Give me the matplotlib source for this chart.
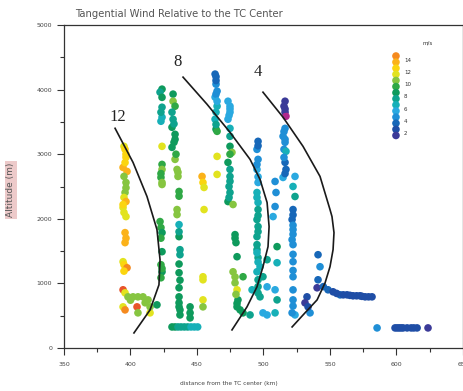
import numpy as np
import matplotlib.pyplot as plt
from matplotlib.colors import ListedColormap, BoundaryNorm

# ---- data (distance km, altitude m, wind m/s) ----
# column near the 12 m/s line
col_a_km = [395.1, 395.9, 396.6, 394.4, 397.4, 395.1, 396.6, 395.9, 395.1, 396.6, 394.4, 395.1,
            396.6, 395.9, 395.9, 394.4, 395.1, 397.4, 394.4, 395.9, 398.1, 401.9, 405.6, 409.4,
            413.2, 394.4, 395.9, 404.9, 405.6, 414.7, 414.7, 419.9,
            396.6, 395.9, 396.6, 394.4, 396.6, 395.1, 400.0, 411.0]
col_a_alt = [3122, 3075, 2951, 2795, 2733, 2656, 2562, 2407, 2330, 2267, 2174, 2097,
             2034, 1786, 1631, 1336, 1289, 1242, 901, 854, 792, 792, 792, 792,
             745, 637, 590, 637, 544, 544, 637, 668,
             3000, 2870, 2480, 2220, 1700, 1190, 740, 700]
col_a_spd = [12, 13, 13, 14, 14, 11, 11, 11, 12, 14, 12, 12,
             12, 14, 14, 12, 13, 15, 16, 12, 11, 11, 11, 11,
             11, 12, 15, 16, 11, 12, 11, 9,
             13, 13, 11, 13, 14, 13, 11, 11]

# two green columns between the 12 and 8 lines
col_b_km = [423.7, 422.2, 423.7, 423.7, 422.9, 423.7, 423.7, 423.7, 422.9, 423.7, 423.7, 422.2,
            422.9, 423.7, 423.7, 422.9, 423.7, 422.9,
            432.0, 432.0, 433.5, 431.2, 432.0, 431.2, 433.5, 432.7, 431.2, 433.5, 435.0, 435.7,
            436.5, 435.0, 435.0, 436.5, 436.5, 437.2, 437.2, 436.5, 436.5, 436.5, 436.5, 437.2,
            437.2, 444.8, 444.8, 444.8,
            431.2, 433.5, 435.7, 438.0, 440.5, 443.0, 445.5, 448.0, 450.5,
            422.9, 423.7, 422.9, 422.9, 423.7,
            432.7, 433.5, 434.2, 435.7, 436.5, 436.5, 436.5, 437.2, 436.5]
col_b_alt = [4007, 3960, 3727, 3572, 3510, 3122, 2842, 2764, 2640, 2562, 2531, 1957,
             1864, 1786, 1491, 1289, 1180, 1087,
             3930, 3820, 3743, 3650, 3541, 3417, 3308, 3184, 3106, 2920, 2764, 2656,
             2423, 2143, 2065, 1910, 1724, 1522, 1444, 1165, 932, 792, 637, 590,
             512, 637, 544, 466,
             326, 326, 326, 326, 326, 326, 326, 326, 326,
             3650, 3880, 2700, 1700, 1230,
             3470, 3230, 3000, 2720, 2350, 1800, 1300, 1050, 700]
col_b_spd = [9, 8, 8, 7, 7, 12, 10, 11, 10, 11, 11, 10,
             10, 9, 9, 10, 9, 10,
             9, 11, 10, 8, 8, 9, 9, 9, 9, 11, 11, 11,
             10, 11, 11, 7, 9, 8, 8, 9, 9, 9, 9, 9,
             9, 9, 9, 9,
             9, 9, 8, 8, 8, 8, 7, 7, 7,
             8, 9, 10, 10, 10,
             8, 9, 10, 11, 10, 8, 9, 9, 9]

# scattered yellow points and the column topped by blue near 465 km
col_c_km = [453.8, 454.5, 455.3, 455.3, 454.5, 454.5, 454.5, 454.5,
            463.6, 464.3, 464.3, 465.1, 463.6, 465.1, 463.6, 464.3, 465.1, 465.1, 465.1,
            464.3, 464.3, 465.1, 464.3, 464.3]
col_c_alt = [2656, 2562, 2485, 2143, 1103, 1056, 745, 637,
             4240, 4200, 4084, 3976, 3883, 3743, 3541, 3386, 3354, 2966, 2687,
             4140, 3930, 3820, 3650, 3460]
col_c_spd = [14, 13, 12, 12, 12, 12, 12, 11,
             4, 4, 5, 5, 6, 7, 7, 9, 10, 12, 12,
             4, 5, 6, 7, 8]

# teal / green column just left of the 8 line
col_d_km = [473.3, 474.8, 474.8, 473.3, 474.8, 474.8, 476.3, 473.3, 474.8, 474.8, 474.1, 474.8,
            473.3, 477.1, 478.6, 479.3, 480.1, 477.1, 478.6, 480.1, 480.8, 480.1, 482.4, 484.6,
            489.9, 484.6, 491.4,
            474.8, 474.1, 474.8, 474.8, 474.8, 474.1, 478.6, 478.6, 479.3, 480.1]
col_d_alt = [3820, 3743, 3650, 3541, 3277, 3122, 3028, 2873, 2764, 2656, 2500, 2407,
             2267, 2221, 1755, 1631, 1413, 1180, 1009, 901, 745, 637, 590, 544,
             512, 1103, 901,
             3700, 3600, 3400, 3000, 2580, 2330, 1700, 1100, 830, 690]
col_d_spd = [6, 6, 6, 6, 8, 9, 11, 9, 8, 8, 8, 8,
             9, 11, 9, 9, 9, 11, 11, 12, 9, 9, 9, 9,
             8, 10, 7,
             6, 6, 7, 10, 8, 8, 9, 11, 11, 9]

# cyan column right of the 8 line
col_e_km = [495.9, 495.1, 495.9, 495.1, 495.9, 495.1, 495.9, 495.9, 495.1, 495.9, 495.1, 495.1,
            495.9, 495.1, 497.4, 499.6, 495.9, 497.4, 499.6, 502.7,
            502.7, 502.7, 508.7, 507.2, 510.2, 510.2, 508.7, 510.2, 508.7, 508.7, 509.4,
            495.9, 495.1, 495.9, 495.1, 495.9, 495.9, 495.1, 495.9, 495.1, 495.9, 495.9]
col_e_alt = [3199, 3075, 2920, 2764, 2562, 2407, 2252, 2143, 1988, 1801, 1724, 1522,
             1398, 1475, 1258, 1103, 1056, 792, 544, 512,
             1367, 947, 2190, 2034, 1569, 1320, 901, 745, 544, 2578, 2407,
             3130, 2840, 2650, 2330, 2050, 1880, 1600, 1330, 1180, 950, 850]
col_e_spd = [4, 5, 5, 6, 6, 7, 7, 8, 8, 8, 8, 8,
             8, 7, 7, 8, 8, 8, 6, 6,
             8, 6, 5, 6, 9, 7, 6, 8, 7, 5, 5,
             4, 5, 6, 7, 8, 8, 8, 7, 7, 8, 8]

# blue columns between the 8 and 4 lines
col_f_km = [516.2, 515.4, 516.2, 516.9, 514.7, 516.2, 515.4, 516.9, 516.2, 516.9, 514.7, 523.7,
            522.2, 523.7, 522.2, 521.5, 522.2, 521.5, 522.2, 522.2, 522.2, 523.7, 521.5,
            516.2, 516.2, 515.4, 516.2, 515.4, 516.2, 522.2, 522.2, 522.2, 522.2, 522.2,
            522.2, 522.2, 522.2]
col_f_alt = [3820, 3743, 3650, 3587, 3277, 3184, 3075, 3044, 2873, 2764, 2640, 2656,
             2500, 2345, 2143, 1988, 1833, 1677, 1336, 1103, 745, 512, 544,
             3700, 3400, 3350, 3230, 2950, 2700, 2060, 1900, 1760, 1600, 1450,
             1200, 900, 650]
col_f_spd = [2, 2, 2, 1, 5, 5, 5, 7, 4, 4, 6, 6,
             7, 8, 4, 4, 5, 5, 5, 5, 5, 6, 5,
             2, 5, 5, 5, 5, 4, 4, 5, 5, 5, 5,
             5, 5, 5]

# low-level points beyond the 4 line
col_g_km = [532.7, 531.2, 535.0, 533.5, 541.0, 542.5, 541.0, 540.3,
            548.5, 552.3, 557.6, 562.8, 567.3, 572.6, 576.4, 581.6,
            585.4, 598.9, 602.0, 605.0, 608.0, 611.0, 615.5, 623.7,
            545.0, 555.0, 560.0, 565.0, 570.0, 574.0, 579.0, 600.5, 603.5, 613.0]
col_g_alt = [792, 699, 544, 637, 1444, 1258, 1056, 932,
             901, 870, 823, 823, 808, 808, 792, 792,
             311, 311, 311, 311, 311, 311, 311, 311,
             950, 845, 823, 815, 808, 800, 792, 311, 311, 311]
col_g_spd = [3, 2, 5, 3, 4, 5, 4, 2,
             4, 3, 4, 3, 3, 3, 3, 3,
             5, 3, 3, 3, 3, 3, 3, 2,
             4, 3, 3, 3, 3, 3, 3, 3, 3, 3]

# isotach lines (m/s) drawn by hand on the original
line12_km = [388.4, 401.9, 412.4, 419.9, 422.2, 421.4, 414.7, 402.6]
line12_alt = [3401, 2873, 2345, 1833, 1367, 978, 590, 233]
line8_km = [439.5, 457.5, 474.8, 489.9, 497.4, 502.7, 504.2, 503.4, 499.6, 495.1, 487.6, 476.3]
line8_alt = [4193, 3774, 3339, 2920, 2609, 2252, 1879, 1569, 1258, 947, 637, 280]
line4_km = [499.6, 514.7, 529.7, 542.5, 550.0, 551.5, 553.0, 552.3, 550.0, 546.3, 540.3, 531.2, 521.5]
line4_alt = [3960, 3572, 3122, 2656, 2143, 2034, 1786, 1522, 1258, 1009, 745, 544, 326]
line_labels = ['12', '8', '4']
label_km = [390.5, 435.5, 495.5]
label_alt = [3580, 4420, 4270]

legend_speeds = list(range(15, 1, -1))
legend_ticks = [14, 12, 10, 8, 6, 4, 2]

speed_colors = ['#b0288c', '#3b3a98', '#1f4ea6', '#1767b8', '#1f8fd6', '#2aa9e0', '#17b0b8',
                '#0ea38e', '#0e9a5c', '#2fa845', '#86c540', '#e2e31f', '#fbd50f', '#fbb21a',
                '#f58a1f', '#e8542a']
cmap = ListedColormap(speed_colors)
norm = BoundaryNorm(np.arange(0.5, 17.5, 1), cmap.N)

km = col_a_km + col_b_km + col_c_km + col_d_km + col_e_km + col_f_km + col_g_km
alt = col_a_alt + col_b_alt + col_c_alt + col_d_alt + col_e_alt + col_f_alt + col_g_alt
spd = col_a_spd + col_b_spd + col_c_spd + col_d_spd + col_e_spd + col_f_spd + col_g_spd

fig = plt.figure(figsize=(4.64, 3.91), dpi=100)
ax = fig.add_axes([64 / 464, 43 / 391, 399 / 464, 323 / 391])

ax.scatter(km, alt, c=spd, cmap=cmap, norm=norm, s=30, edgecolors='none', zorder=2)

for xs, ys in [(line12_km, line12_alt), (line8_km, line8_alt), (line4_km, line4_alt)]:
    ax.plot(xs, ys, color='#1a1a1a', lw=1.2, zorder=3)
for t, x, y in zip(line_labels, label_km, label_alt):
    ax.text(x, y, t, fontsize=12, family='Liberation Serif', ha='center', va='center', color='#222222')

# speed key in the upper right
key_y = np.linspace(0.904, 0.658, len(legend_speeds))
ax.scatter([0.832] * len(legend_speeds), key_y, c=legend_speeds, cmap=cmap, norm=norm,
           s=30, edgecolors='none', transform=ax.transAxes, zorder=4)
for sp, y in zip(legend_speeds, key_y):
    if sp in legend_ticks:
        ax.text(0.852, y + 0.006, str(sp), fontsize=4, transform=ax.transAxes, va='center', color='#333333')
ax.text(0.912, 0.94, 'm/s', fontsize=4, transform=ax.transAxes, ha='center', color='#333333')

ax.set_xlim(350, 650)
ax.set_ylim(0, 5000)
ax.set_xticks(np.arange(350, 651, 50))
ax.set_xticks(np.arange(375, 650, 50), minor=True)
ax.set_yticks(np.arange(0, 5001, 1000))
ax.set_yticks(np.arange(500, 5000, 1000), minor=True)
ax.tick_params(which='major', length=5, width=0.8, labelsize=4.5, colors='#333333', labelcolor='#444444')
ax.tick_params(which='minor', length=3, width=0.8, colors='#333333')
ax.tick_params(axis='x', pad=5)
for sp in ax.spines.values():
    sp.set_color('#333333')
    sp.set_linewidth(0.9)

fig.text(75 / 464, 1 - 14 / 391, 'Tangential Wind Relative to the TC Center', fontsize=7.2,
         color='#555555', va='center', ha='left')
fig.text(229 / 464, 7 / 391, 'distance from the TC center (km)', fontsize=4.2,
         color='#444444', ha='center', va='center')
fig.text(11 / 464, 1 - 190 / 391, 'Altitude (m)', fontsize=6.5, rotation=90, color='#555555',
         ha='center', va='center',
         bbox=dict(facecolor='#edcaca', edgecolor='none', pad=1.2))

fig.savefig('out.png', dpi=100)
